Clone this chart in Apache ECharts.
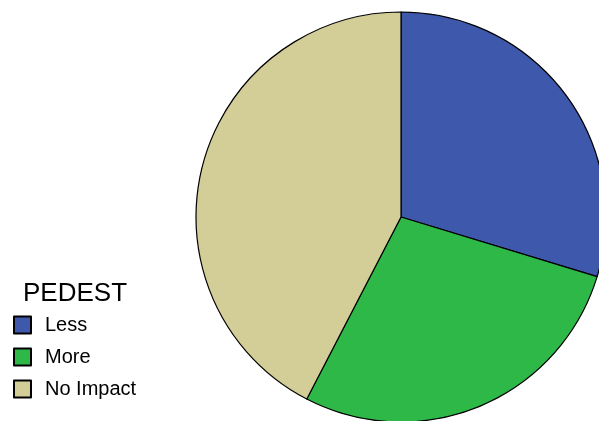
<!DOCTYPE html>
<html><head><meta charset="utf-8">
<script src="https://cdn.jsdelivr.net/npm/echarts@6/dist/echarts.min.js"></script>
<style>html,body{margin:0;padding:0;background:#fff}#c{width:599px;height:421px}</style>
</head><body><div id="c"></div>
<script>
const categories = ['Less', 'More', 'No Impact'];
const values = [29.7, 27.9, 42.4];
const colors = ['#3e58ac', '#2eb848', '#d3ce97'];
const legendTitle = 'PEDEST';

const chart = echarts.init(document.getElementById('c'), null, {renderer: 'canvas'});
chart.setOption({
  animation: false,
  title: {
    text: legendTitle, left: 23, top: 281, padding: 0,
    textStyle: {fontFamily: 'Liberation Sans, Arial', fontSize: 26, fontWeight: 'normal', color: '#000'}
  },
  legend: {
    orient: 'vertical', left: 13, top: 315, padding: 0,
    icon: 'rect', itemWidth: 17, itemHeight: 17, itemGap: 12,
    itemStyle: {borderColor: '#000', borderWidth: 2},
    textStyle: {fontFamily: 'Liberation Sans, Arial', fontSize: 20, lineHeight: 18, color: '#000', padding: [0, 0, 0, 9]},
    data: categories
  },
  series: [{
    type: 'pie',
    center: [401, 217],
    radius: 205,
    startAngle: 90,
    clockwise: true,
    label: {show: false},
    labelLine: {show: false},
    emphasis: {disabled: true},
    itemStyle: {borderColor: '#000', borderWidth: 1.2},
    data: categories.map((c, i) => ({name: c, value: values[i], itemStyle: {color: colors[i]}}))
  }]
});
</script></body></html>
